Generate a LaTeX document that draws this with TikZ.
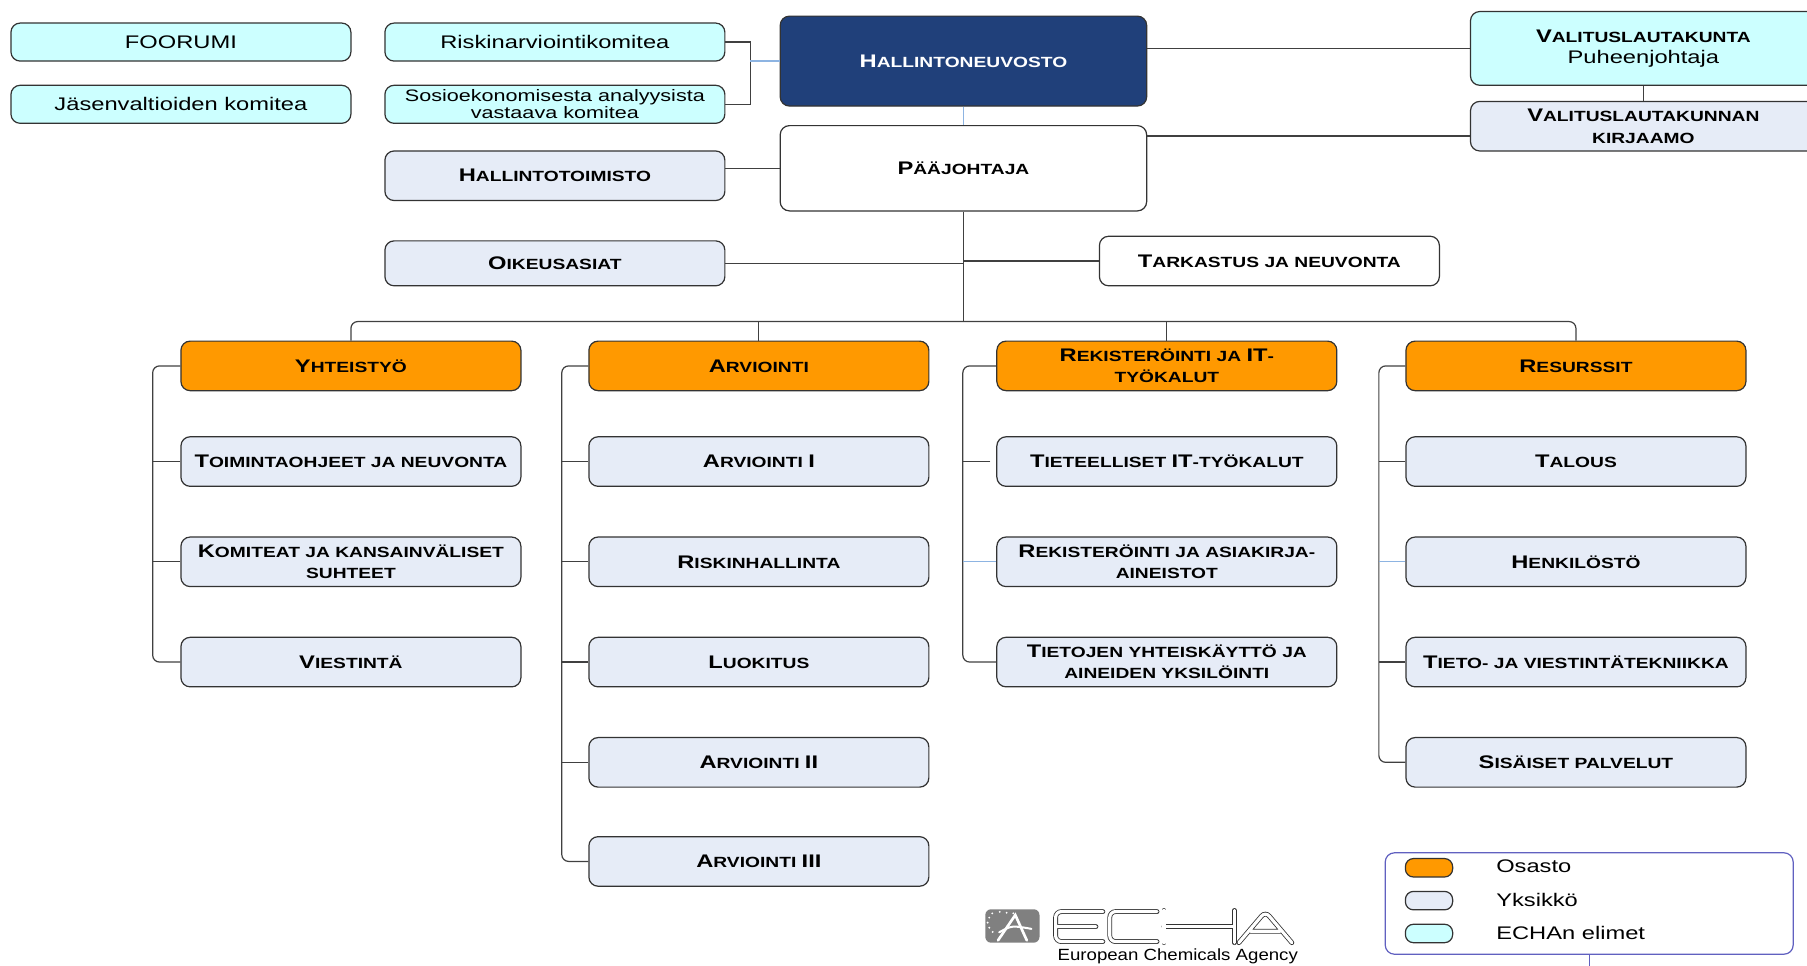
\documentclass[tikz,border=0pt]{standalone}
\usepackage{fontspec}
\setmainfont{Liberation Sans}[FakeStretch=1.3]
\newfontfamily\logofont{Liberation Sans}[FakeStretch=1.15]
\usetikzlibrary{calc}
\definecolor{navy}{RGB}{32,64,122}
\definecolor{aqua}{RGB}{204,255,255}
\definecolor{pale}{RGB}{230,236,247}
\definecolor{amber}{RGB}{255,153,0}
\definecolor{wire}{RGB}{64,64,64}
\definecolor{skyline}{RGB}{141,180,226}
\definecolor{legendblue}{RGB}{96,96,192}
\definecolor{logogray}{RGB}{128,128,128}
\newcommand\Cp[1]{{\fontsize{9}{10.5}\selectfont #1}}
\begin{document}
\begin{tikzpicture}[x=0.2mm,y=-0.2mm,
    box/.style={draw=black!80, line width=0.6pt, rounded corners=1.6mm, inner sep=0.5pt, align=center, minimum width=59mm, minimum height=8.6mm},
    organ/.style={box, fill=aqua, font=\fontsize{9}{10.5}\selectfont, minimum height=6.6mm},
    unit/.style={box, fill=pale, font=\bfseries\fontsize{7.3}{10.5}\selectfont},
    dept/.style={unit, fill=amber},
    head/.style={unit, fill=white, minimum width=63.6mm},
    link/.style={draw=wire, line width=0.6pt},
    softlink/.style={draw=skyline, line width=0.6pt},
    swatch/.style={draw=black!80, line width=0.6pt, rounded corners=1.4mm, minimum width=8.2mm, minimum height=3.2mm, inner sep=0pt},
    key/.style={anchor=west, font=\fontsize{9}{10.5}\selectfont, inner sep=0pt},
    logo/.style={draw=black!80, line width=0.4pt, double=white, double distance=0.55mm, line cap=round, rounded corners=1mm}]
    \useasboundingbox (0,0) rectangle (1568,838);
    \clip (0,0) rectangle (1568,838);

    % ECHA bodies and board
    \node[organ](foorumi) at (157,36.5){FOORUMI};
    \node[organ](jasen) at (157,90.5){Jäsenvaltioiden komitea};
    \node[organ](riski) at (481.5,36.5){Riskinarviointikomitea};
    \node[organ, font=\fontsize{8.2}{8.6}\selectfont](sosio) at (481.5,90.5){Sosioekonomisesta analyysista\\vastaava komitea};
    \node[head, fill=navy, text=white, minimum height=15.6mm](hn) at (836,53){\Cp{H}ALLINTONEUVOSTO};
    \node[organ, minimum width=60mm, minimum height=12.8mm](vl) at (1426,42){{\bfseries\fontsize{7.3}{10.5}\selectfont\Cp{V}ALITUSLAUTAKUNTA}\\Puheenjohtaja};
    \node[unit, minimum width=60mm](kj) at (1426,109.5){\Cp{V}ALITUSLAUTAKUNNAN\\KIRJAAMO};

    % director and staff units
    \node[head, minimum height=14.8mm](pj) at (836,146){\Cp{P}ÄÄJOHTAJA};
    \node[unit](ht) at (481.5,152.5){\Cp{H}ALLINTOTOIMISTO};
    \node[unit, minimum height=7.8mm](oa) at (481.5,228.5){\Cp{O}IKEUSASIAT};
    \node[unit, fill=white](tk) at (1101.5,226.5){\Cp{T}ARKASTUS JA NEUVONTA};

    % directorates
    \node[dept](yh) at (304.5,317.5){\Cp{Y}HTEISTYÖ};
    \node[dept](ar) at (658.5,317.5){\Cp{A}RVIOINTI};
    \node[dept](rk) at (1012.5,317.5){\Cp{R}EKISTERÖINTI JA \Cp{IT}-\\TYÖKALUT};
    \node[dept](rs) at (1367.5,317.5){\Cp{R}ESURSSIT};

    \node[unit](to) at (304.5,400.5){\Cp{T}OIMINTAOHJEET JA NEUVONTA};
    \node[unit](ko) at (304.5,487.5){\Cp{K}OMITEAT JA KANSAINVÄLISET\\SUHTEET};
    \node[unit](vi) at (304.5,574.5){\Cp{V}IESTINTÄ};

    \node[unit](a1) at (658.5,400.5){\Cp{A}RVIOINTI \Cp{I}};
    \node[unit](rh) at (658.5,487.5){\Cp{R}ISKINHALLINTA};
    \node[unit](lu) at (658.5,574.5){\Cp{L}UOKITUS};
    \node[unit](a2) at (658.5,661.5){\Cp{A}RVIOINTI \Cp{II}};
    \node[unit](a3) at (658.5,747.5){\Cp{A}RVIOINTI \Cp{III}};

    \node[unit](ti) at (1012.5,400.5){\Cp{T}IETEELLISET \Cp{IT}-TYÖKALUT};
    \node[unit](ra) at (1012.5,487.5){\Cp{R}EKISTERÖINTI JA ASIAKIRJA-\\AINEISTOT};
    \node[unit](ty) at (1012.5,574.5){\Cp{T}IETOJEN YHTEISKÄYTTÖ JA\\AINEIDEN YKSILÖINTI};

    \node[unit](ta) at (1367.5,400.5){\Cp{T}ALOUS};
    \node[unit](he) at (1367.5,487.5){\Cp{H}ENKILÖSTÖ};
    \node[unit](tv) at (1367.5,574.5){\Cp{T}IETO- JA VIESTINTÄTEKNIIKKA};
    \node[unit](sp) at (1367.5,661.5){\Cp{S}ISÄISET PALVELUT};

    % top connectors
    \coordinate(cm) at (651,53);
    \draw[link](riski.east) -| (cm) |- (sosio.east);
    \draw[softlink](cm) -- (hn.west);
    \draw[softlink](hn.south) -- (pj.north);
    \draw[link](vl.west -| hn.east) -- (vl.west);
    \draw[link](vl.south) -- (kj.north);
    \draw[link]([yshift=-1.7mm]kj.west -| pj.east) -- ([yshift=-1.7mm]kj.west);
    \draw[link](pj.west -| ht.east) -- (pj.west);

    \coordinate(bus) at (836,279);
    \draw[link](pj.south) -- (bus);
    \draw[link](oa.east) -- (oa.east -| bus);
    \draw[link](tk.west -| bus) -- (tk.west);
    \draw[link, rounded corners=1.2mm](yh.north) |- (bus) -| (rs.north);
    \draw[link](ar.north |- bus) -- (ar.north);
    \draw[link](rk.north |- bus) -- (rk.north);

    % column spines
    \draw[link, rounded corners=1.2mm](yh.west) -- ++(-24,0) |- (vi.west);
    \draw[link](to.west) -- ++(-24,0);
    \draw[link](ko.west) -- ++(-24,0);

    \draw[link, rounded corners=1.2mm](ar.west) -- ++(-23,0) |- (a3.west);
    \draw[link](a1.west) -- ++(-23,0);
    \draw[link](rh.west) -- ++(-23,0);
    \draw[link](lu.west) -- ++(-23,0);
    \draw[link](a2.west) -- ++(-23,0);

    \draw[link, rounded corners=1.2mm](rk.west) -- ++(-29,0) |- (ty.west);
    \draw[link]([xshift=-1mm]ti.west) -- ++(-24,0);
    \draw[softlink](ra.west) -- ++(-29,0);

    \draw[link, rounded corners=1.2mm](rs.west) -- ++(-23,0) |- (sp.west);
    \draw[link](ta.west) -- ++(-23,0);
    \draw[softlink](he.west) -- ++(-23,0);
    \draw[link](tv.west) -- ++(-23,0);

    % legend
    \node[draw=legendblue, line width=0.6pt, rounded corners=1.6mm, minimum width=70.8mm, minimum height=17.6mm](lg) at (1379,784){};
    \coordinate(lgtail) at (1379,845);
    \draw[draw=legendblue, line width=0.6pt](lg.south) -- (lgtail);
    \node[swatch, fill=amber](sw1) at (1240,753){};
    \node[swatch, fill=pale](sw2) at (1240,781.5){};
    \node[swatch, fill=aqua](sw3) at (1240,810){};
    \node[key](k1) at (1298,752){Osasto};
    \node[key](k2) at (1298,781){Yksikkö};
    \node[key](k3) at (1298,810){ECHAn elimet};

    % logo
    \node[fill=logogray, rounded corners=1mm, minimum width=9.4mm, minimum height=5.8mm, inner sep=0pt](icon) at (878.5,803.5){};
    \fill[white] (861,792.5) circle (0.9) (867.5,791.3) circle (0.9) (873.5,792) circle (0.9) (879.3,792.5) circle (0.9)
        (858.4,796.3) circle (0.9) (857,800.6) circle (0.9) (858.4,805) circle (0.9) (861.4,808.7) circle (0.9);
    \draw[white, line width=1.3pt, line cap=round](866,816) -- (881,794) -- (891,816);
    \draw[white, line width=1pt, line cap=round](867,809) .. controls (878,803) .. (895,806);
    \draw[logo](957,791) -- (916,791) -- (916,817) -- (957,817) (916,804) -- (951,804);
    \draw[logo](1004,791) -- (963,791) -- (963,817) -- (1004,817);
    \draw[logo](1010,790) -- (1010,818) (1071,790) -- (1071,818) (1010,804) -- (1071,804);
    \draw[logo](1075,818) -- (1098,791) -- (1121,818) (1085,808) -- (1111,808);
    \node[font=\logofont\fontsize{8}{9}\selectfont, inner sep=0pt](agency) at (1022,830){European Chemicals Agency};
  \end{tikzpicture}
\end{document}
